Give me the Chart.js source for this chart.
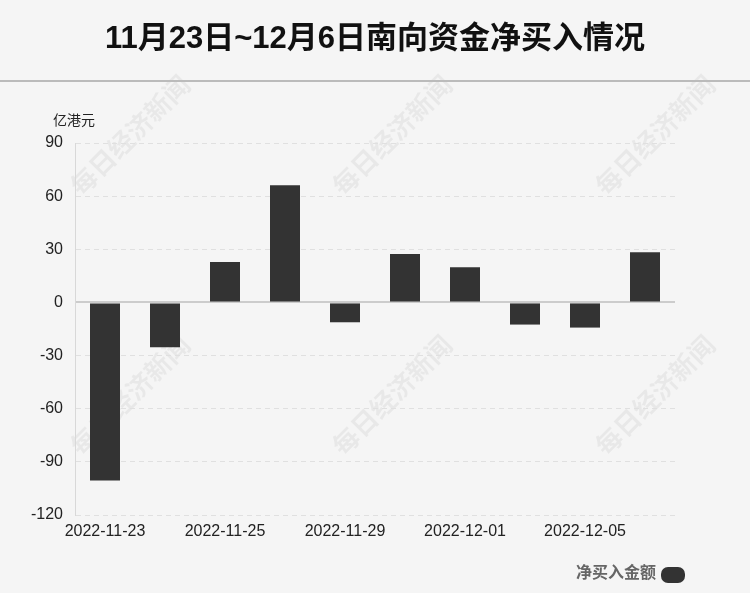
<!DOCTYPE html>
<html><head><meta charset="utf-8">
<script src="https://cdn.jsdelivr.net/npm/chart.js@4/dist/chart.umd.min.js"></script>
<style>html,body{margin:0;padding:0;background:#f5f5f5;}#wrap{width:750px;height:593px;position:relative;}</style>
</head><body><div id="wrap"><canvas id="c" width="750" height="593"></canvas></div>
<script>
const titleText = "11月23日~12月6日南向资金净买入情况";
const unitText = "亿港元";
const seriesName = "净买入金额";
const categories = ["2022-11-23","2022-11-24","2022-11-25","2022-11-28","2022-11-29","2022-11-30","2022-12-01","2022-12-02","2022-12-05","2022-12-06"];
const netBuy = [-100.5, -25.3, 22.8, 66.2, -11.2, 27.3, 19.9, -12.5, -14.2, 28.3];
const yTicks = [90, 60, 30, 0, -30, -60, -90, -120];
const watermark = "每日经济新闻";
const FONT = "'Liberation Sans', 'Noto Sans CJK SC', sans-serif";

const decor = {
  id: 'decor',
  beforeDraw(chart) {
    const ctx = chart.ctx;
    ctx.save();
    ctx.fillStyle = '#f5f5f5';
    ctx.fillRect(0, 0, chart.width, chart.height);
    ctx.fillStyle = 'rgba(0,0,0,0.05)';
    ctx.font = "bold 26px 'Noto Sans CJK SC', sans-serif";
    ctx.textAlign = 'center'; ctx.textBaseline = 'middle';
    [[130,135],[392,135],[655,135],[130,395],[392,395],[655,395]].forEach(([x,y]) => {
      ctx.save(); ctx.translate(x, y); ctx.rotate(-Math.PI/4); ctx.fillText(watermark, 0, 0); ctx.restore();
    });
    ctx.restore();
  },
  afterDraw(chart) {
    const ctx = chart.ctx;
    ctx.save();
    ctx.fillStyle = '#111';
    ctx.font = "bold 31px " + FONT;
    ctx.textAlign = 'center'; ctx.textBaseline = 'middle';
    ctx.fillText(titleText, 375, 39);
    ctx.strokeStyle = '#bbb'; ctx.lineWidth = 2;
    ctx.beginPath(); ctx.moveTo(0, 81); ctx.lineTo(750, 81); ctx.stroke();
    ctx.fillStyle = '#222';
    ctx.font = "14px " + FONT;
    ctx.textAlign = 'left';
    ctx.fillText(unitText, 53, 121);
    ctx.font = "bold 16px " + FONT;
    ctx.fillStyle = '#666';
    ctx.textAlign = 'right';
    ctx.fillText(chart.data.datasets[0].label, 656, 574);
    ctx.fillStyle = '#333';
    ctx.beginPath();
    ctx.roundRect(661, 567, 24, 16, 7);
    ctx.fill();
    ctx.restore();
  }
};

new Chart(document.getElementById('c'), {
  type: 'bar',
  data: {
    labels: categories,
    datasets: [{ label: seriesName, data: netBuy, backgroundColor: '#333333', barPercentage: 0.5, categoryPercentage: 1.0 }]
  },
  options: {
    responsive: false,
    animation: false,
    devicePixelRatio: 1,
    layout: { padding: { top: 143, left: 0, right: 75, bottom: 48 } },
    plugins: { legend: { display: false }, title: { display: false }, tooltip: { enabled: false } },
    scales: {
      x: {
        grid: { display: false, drawTicks: false },
        border: { display: false },
        afterFit: (axis) => { axis.height = 30; },
        ticks: {
          color: '#222', font: { size: 16, family: FONT }, maxRotation: 0, autoSkip: false, padding: 7,
          callback: function(v, i) { return i % 2 === 0 ? categories[i] : ''; }
        }
      },
      y: {
        min: -120, max: 90,
        afterBuildTicks: (axis) => { axis.ticks = yTicks.map(v => ({ value: v })); },
        afterFit: (axis) => { axis.width = 75; },
        border: {
          display: true, color: '#d8d8d8', width: 1,
          dash: (c) => (c.tick && c.tick.value === 0) ? [] : [5, 4]
        },
        grid: {
          drawTicks: false,
          color: (c) => c.tick && c.tick.value === 0 ? '#cccccc' : '#e0e0e0',
          lineWidth: (c) => c.tick && c.tick.value === 0 ? 2 : 1
        },
        ticks: { color: '#222', font: { size: 16, family: FONT }, padding: 12 }
      }
    }
  },
  plugins: [decor]
});
</script></body></html>
